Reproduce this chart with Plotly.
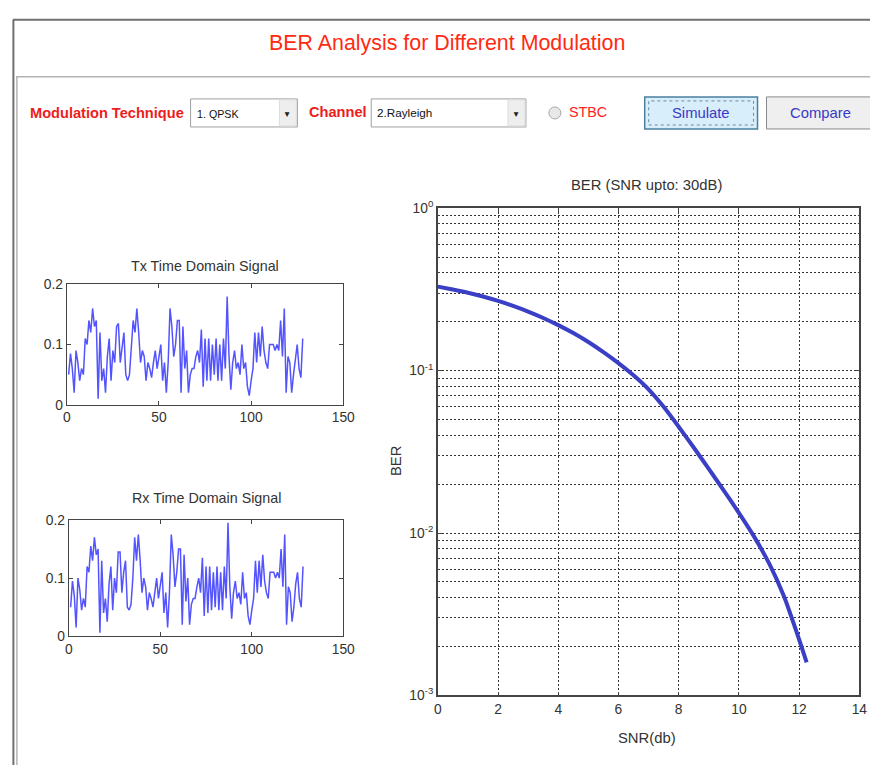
import plotly.graph_objects as go

W, H = 878, 765

# ---------------- data ----------------
tx_signal = [0.05, 0.085, 0.06, 0.02, 0.09, 0.07, 0.04, 0.06, 0.05, 0.11,
             0.10, 0.14, 0.12, 0.16, 0.13, 0.14, 0.01, 0.12, 0.04, 0.06,
             0.02, 0.08, 0.11, 0.04, 0.09, 0.07, 0.13, 0.135, 0.07, 0.10,
             0.12, 0.05, 0.04, 0.05, 0.09, 0.14, 0.12, 0.16, 0.12, 0.07,
             0.09, 0.08, 0.04, 0.07, 0.06, 0.045, 0.07, 0.09, 0.06, 0.08,
             0.10, 0.04, 0.07, 0.02, 0.07, 0.16, 0.13, 0.08, 0.10, 0.14,
             0.14, 0.02, 0.13, 0.06, 0.09, 0.02, 0.05, 0.06, 0.06, 0.08,
             0.09, 0.07, 0.125, 0.03, 0.11, 0.04, 0.11, 0.04, 0.10, 0.05,
             0.11, 0.04, 0.10, 0.04, 0.11, 0.06, 0.18, 0.08, 0.025, 0.07,
             0.09, 0.06, 0.07, 0.05, 0.10, 0.06, 0.07, 0.03, 0.015, 0.04,
             0.06, 0.12, 0.07, 0.12, 0.08, 0.13, 0.09, 0.07, 0.06, 0.10,
             0.10, 0.10, 0.09, 0.10, 0.09, 0.14, 0.08, 0.16, 0.02, 0.08,
             0.07, 0.02, 0.05, 0.08, 0.10, 0.06, 0.045, 0.11]

rx_signal = [0.05, 0.095, 0.07, 0.015, 0.10, 0.08, 0.045, 0.065, 0.05, 0.12,
             0.11, 0.155, 0.13, 0.17, 0.14, 0.15, 0.006, 0.13, 0.04, 0.065,
             0.025, 0.09, 0.12, 0.045, 0.10, 0.075, 0.145, 0.145, 0.075, 0.11,
             0.13, 0.05, 0.045, 0.055, 0.10, 0.17, 0.13, 0.175, 0.13, 0.075,
             0.10, 0.085, 0.045, 0.075, 0.065, 0.05, 0.075, 0.10, 0.065, 0.085,
             0.11, 0.04, 0.075, 0.015, 0.075, 0.175, 0.14, 0.085, 0.11, 0.15,
             0.15, 0.02, 0.14, 0.06, 0.10, 0.02, 0.055, 0.065, 0.065, 0.085,
             0.10, 0.075, 0.135, 0.035, 0.12, 0.04, 0.12, 0.045, 0.11, 0.05,
             0.12, 0.045, 0.11, 0.045, 0.12, 0.065, 0.195, 0.085, 0.03, 0.075,
             0.095, 0.065, 0.075, 0.055, 0.11, 0.065, 0.075, 0.035, 0.02, 0.045,
             0.065, 0.13, 0.075, 0.13, 0.085, 0.14, 0.095, 0.075, 0.065, 0.11,
             0.11, 0.11, 0.10, 0.11, 0.10, 0.15, 0.085, 0.175, 0.02, 0.085,
             0.075, 0.025, 0.05, 0.09, 0.11, 0.065, 0.05, 0.12]

sample_index = list(range(1, len(tx_signal) + 1))

snr_db = [0, 0.5, 1, 1.5, 2, 2.5, 3, 3.5, 4, 4.5, 5, 5.5, 6, 6.5, 7, 7.5,
          8, 8.5, 9, 9.5, 10, 10.5, 11, 11.5, 12, 12.25]
ber = [0.3289, 0.3155, 0.3013, 0.2858, 0.2685, 0.2500, 0.2307, 0.2109,
       0.1905, 0.1702, 0.1500, 0.1300, 0.1112, 0.0935, 0.0766, 0.0598,
       0.0451, 0.0336, 0.0248, 0.01826, 0.0133, 0.00953, 0.00652, 0.00406,
       0.00221, 0.00160]

time_ticks = [0, 50, 100, 150]
amp_ticks = [0, 0.1, 0.2]
amp_tick_text = ["0", "0.1", "0.2"]
snr_ticks = [0, 2, 4, 6, 8, 10, 12, 14]
ber_major = [1e-3, 1e-2, 1e-1, 1]
ber_major_text = ["10<sup>-3</sup>", "10<sup>-2</sup>", "10<sup>-1</sup>", "10<sup>0</sup>"]
ber_minor = [m * d for d in (1e-3, 1e-2, 1e-1) for m in range(2, 10)]

# ---------------- layout helpers (page pixel -> paper) ----------------
AX, BX = 0.9836, 11.1
AY, BY = 0.974, 18.3
FS = 1 / 0.98

def px(t):
    return max(0.0, min(1.0, (t - BX) / AX / W))

def py(t):
    return max(0.0, min(1.0, 1 - (t - BY) / AY / H))

def fs(s):
    return round(s * FS, 1)

NARROW = "Liberation Sans Narrow, Arial Narrow, Liberation Sans, Arial"
PLAIN = "Liberation Sans, Arial"
AX_FONT = dict(family=PLAIN, size=fs(13.5), color="#333333")
AX_LINE = "#444444"
GRID = "#333333"

fig = go.Figure()

fig.add_trace(go.Scatter(x=sample_index, y=tx_signal, mode="lines",
                         line=dict(color="rgba(35,35,255,0.78)", width=1.5),
                         xaxis="x", yaxis="y", showlegend=False))
fig.add_trace(go.Scatter(x=sample_index, y=rx_signal, mode="lines",
                         line=dict(color="rgba(35,35,255,0.78)", width=1.5),
                         xaxis="x2", yaxis="y2", showlegend=False))
fig.add_trace(go.Scatter(x=snr_db, y=ber, mode="lines",
                         line=dict(color="#3a3fc6", width=4, shape="spline", smoothing=0.6),
                         xaxis="x3", yaxis="y3", showlegend=False))

small_x = dict(range=[0, 150], tickvals=time_ticks, ticks="inside", ticklen=4,
               showline=True, linecolor=AX_LINE, linewidth=1, mirror="ticks",
               showgrid=False, zeroline=False, tickfont=AX_FONT, tickcolor=AX_LINE)
small_y = dict(range=[0, 0.2], tickvals=amp_ticks, ticktext=amp_tick_text,
               ticks="inside", ticklen=4,
               showline=True, linecolor=AX_LINE, linewidth=1, mirror="ticks",
               showgrid=False, zeroline=False, tickfont=AX_FONT, tickcolor=AX_LINE)

fig.update_layout(
    width=W, height=H,
    margin=dict(l=0, r=0, t=0, b=0),
    paper_bgcolor="white", plot_bgcolor="white",
    xaxis=dict(domain=[px(66), px(343)], anchor="y", **small_x),
    yaxis=dict(domain=[py(404), py(284)], anchor="x", **small_y),
    xaxis2=dict(domain=[px(68), px(343)], anchor="y2", **small_x),
    yaxis2=dict(domain=[py(635), py(519)], anchor="x2", **small_y),
    xaxis3=dict(domain=[px(437.7), px(860)], anchor="y3", range=[0, 14],
                tickvals=snr_ticks, ticks="inside", ticklen=4,
                showline=True, linecolor=AX_LINE, linewidth=1.5, mirror="ticks",
                showgrid=True, gridcolor=GRID, gridwidth=1, griddash="2px,2px",
                zeroline=False, tickfont=AX_FONT, tickcolor=AX_LINE),
    yaxis3=dict(domain=[py(694), py(208)], anchor="x3", type="log",
                range=[-3, 0], tickmode="array", tickvals=ber_major,
                ticktext=ber_major_text, ticks="inside", ticklen=4,
                showline=True, linecolor=AX_LINE, linewidth=1.5, mirror="ticks",
                showgrid=True, gridcolor=GRID, gridwidth=1, griddash="2px,2px",
                minor=dict(tickmode="array", tickvals=ber_minor, showgrid=True,
                           gridcolor=GRID, gridwidth=1, griddash="2px,2px",
                           ticks="inside", ticklen=2, tickcolor=AX_LINE),
                zeroline=False, tickfont=AX_FONT, tickcolor=AX_LINE),
)

def rect(x0, y0, x1, y1, line, fill, dash=None, width=1, kind="rect"):
    ln = dict(color=line, width=width)
    if dash:
        ln["dash"] = dash
    return dict(type=kind, xref="paper", yref="paper", x0=px(x0), x1=px(x1),
                y0=py(y1), y1=py(y0), line=ln, fillcolor=fill)

def hline(x0, x1, y, color, width):
    return dict(type="line", xref="paper", yref="paper", x0=px(x0), x1=px(x1),
                y0=py(y), y1=py(y), line=dict(color=color, width=width))

def vline(x, y0, y1, color, width):
    return dict(type="line", xref="paper", yref="paper", x0=px(x), x1=px(x),
                y0=py(y0), y1=py(y1), line=dict(color=color, width=width))

shapes = [
    hline(12, 878, 20, "#707070", 2),
    vline(12.5, 20, 765, "#707070", 2),
    hline(15, 878, 77, "#b4b4b4", 1.5),
    vline(16, 77, 765, "#b4b4b4", 1.5),
    rect(190, 99, 297, 127, "#a0a0a0", "white"),
    rect(279, 100, 296, 126, "#dcdcdc", "#eeeeee"),
    rect(371, 99, 526, 127, "#a0a0a0", "white"),
    rect(508, 100, 525, 126, "#dcdcdc", "#eeeeee"),
    rect(549, 107, 561, 119, "#a8a8a8", "#e8e8e8", kind="circle"),
    rect(645, 97, 758, 129, "#4a7fa0", "#d9eefb", width=1.5),
    rect(649, 101, 754, 125, "#6a8aa0", "rgba(0,0,0,0)", dash="dot"),
    rect(767, 97, 876, 129, "#8a8a8a", "#efefef"),
]
fig.update_layout(shapes=shapes)

ann = []
def text(x, y, s, size, color, family=NARROW, xanchor="center", bold=False, angle=0):
    if bold:
        s = "<b>" + s + "</b>"
    ann.append(dict(xref="paper", yref="paper", x=px(x), y=py(y), text=s, showarrow=False,
                    xanchor=xanchor, yanchor="middle", textangle=angle,
                    font=dict(family=family, size=fs(size), color=color)))

text(447, 43, "BER Analysis for Different Modulation", 21, "#ff2a10")
text(27, 113, "Modulation Technique", 14.3, "#ee1c1c", xanchor="left", bold=True)
text(194, 114, "1. QPSK", 10.5, "#111111", xanchor="left")
text(287, 115, "▼", 8, "#222222")
text(307, 112, "Channel", 14.3, "#ee1c1c", xanchor="left", bold=True)
text(375, 113, "2.Rayleigh", 11.5, "#111111", xanchor="left")
text(516, 115, "▼", 8, "#222222")
text(567, 112, "STBC", 14, "#ff2020", xanchor="left")
text(701, 113, "Simulate", 14.5, "#3838c8")
text(821, 113, "Compare", 14.5, "#3838c8")

text(204, 266, "Tx Time Domain Signal", 14, "#333333")
text(206, 497, "Rx Time Domain Signal", 14, "#333333")
text(647, 185, "BER (SNR upto: 30dB)", 14.5, "#333333")
text(647, 736, "SNR(db)", 14.5, "#333333")
text(396, 460, "BER", 14.5, "#333333", angle=-90)
fig.update_layout(annotations=ann)

fig.write_html("out.html")
